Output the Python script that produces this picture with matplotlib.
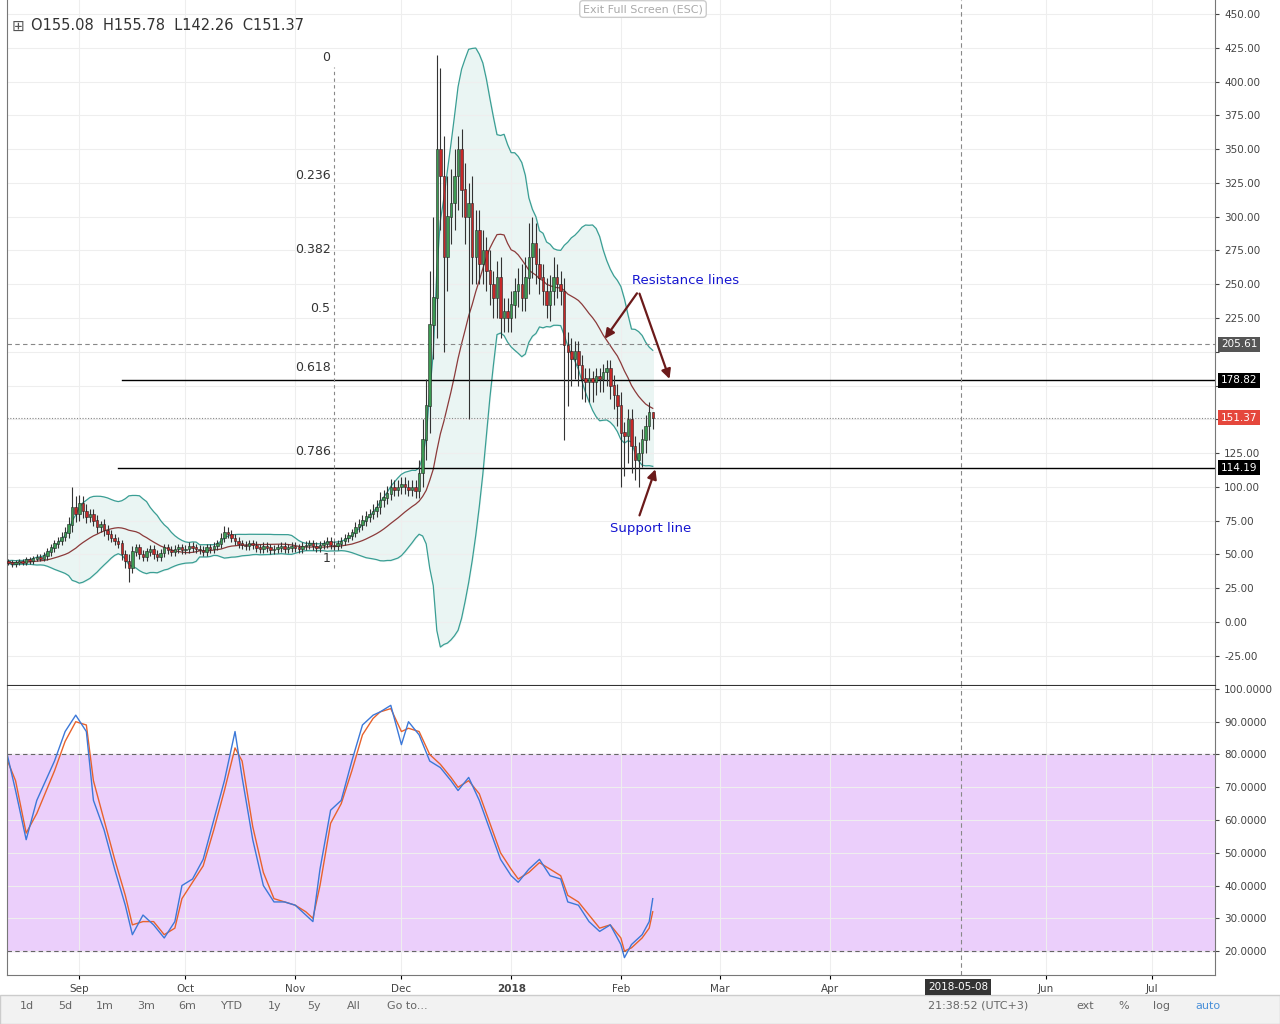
import numpy as np, pandas as pd
import matplotlib
matplotlib.use("Agg")
import matplotlib.pyplot as plt
import matplotlib.dates as mdates

start = "2017-08-11"
closes = [45,44,43,44,45,44,46,45,47,48,47,49,52,55,58,60,63,66,72,85,80,
 88,82,78,80,75,70,72,68,65,62,60,58,50,45,40,52,55,50,48,52,54,50,48,51,55,53,52,54,55,53,
 54,56,55,54,53,52,55,54,56,58,62,66,65,62,60,58,57,56,58,57,55,54,56,55,53,54,55,56,54,55,56,
 55,54,56,57,58,56,55,57,58,60,57,56,58,60,62,64,66,70,72,75,78,80,82,85,90,92,95,100,98,100,
 102,100,98,100,97,110,135,160,220,240,350,330,270,300,310,330,350,320,300,310,270,290,265,275,260,250,240,255,225,230,225,
 235,245,250,240,255,270,280,265,255,245,235,245,255,250,245,205,200,195,200,190,180,178,180,178,182,180,185,188,175,168,160,
 140,138,150,130,120,125,135,145,155.08,151.37]
wick_up = [2,2,2,2,2,2,2,2,2,2,2,3,3,3,3,3,4,4,6,15,8,
 6,5,5,4,4,4,3,4,4,3,3,3,3,3,5,4,3,3,3,3,3,3,3,3,3,3,3,3,3,3,
 3,3,3,3,3,3,3,3,3,3,4,5,4,3,3,3,3,3,3,3,3,3,3,3,3,3,3,3,3,3,3,
 3,3,3,3,3,3,3,3,3,3,3,3,3,3,3,3,3,4,4,4,4,4,5,5,6,6,6,6,5,5,
 5,5,5,5,5,10,15,20,40,60,70,60,30,30,25,20,10,15,20,15,20,15,15,15,10,15,10,12,15,10,10,
 10,10,12,15,15,25,20,15,12,10,10,12,15,10,10,10,10,10,8,8,8,8,8,6,6,6,6,6,6,8,8,
 10,8,8,8,8,8,8,8,8,0.7]
wick_dn = [2,2,2,2,2,2,2,2,2,2,2,2,3,3,3,3,3,3,4,5,6,
 5,5,5,4,4,4,3,4,4,3,3,3,4,5,10,4,3,3,3,3,3,3,3,3,3,3,3,3,3,3,
 3,3,3,3,3,3,3,3,3,3,3,3,3,3,3,3,3,3,3,3,3,3,3,3,3,3,3,3,3,3,3,
 3,3,3,3,3,3,3,3,3,3,3,3,3,3,3,3,3,3,3,4,4,4,4,4,5,5,5,5,5,5,
 5,5,5,5,5,5,10,15,20,25,30,40,70,25,20,20,25,20,20,150,20,20,15,15,15,15,15,15,15,10,10,
 10,10,12,10,10,12,15,15,12,10,10,12,10,10,10,70,40,20,15,15,15,15,15,15,10,10,10,10,10,10,15,
 40,30,20,20,15,20,10,10,10,8.8]

# stochastic values
stoch_dates = ["2017-08-11","2017-08-14","2017-08-17","2017-08-20","2017-08-25","2017-08-28","2017-08-31",
 "2017-09-03","2017-09-05","2017-09-08","2017-09-11","2017-09-14","2017-09-16","2017-09-19","2017-09-22",
 "2017-09-25","2017-09-28","2017-09-30","2017-10-03","2017-10-06","2017-10-09","2017-10-12","2017-10-15",
 "2017-10-17","2017-10-20","2017-10-23","2017-10-26","2017-10-29","2017-11-01","2017-11-04","2017-11-06",
 "2017-11-08","2017-11-11","2017-11-14","2017-11-17","2017-11-20","2017-11-23","2017-11-25","2017-11-28",
 "2017-12-01","2017-12-03","2017-12-06","2017-12-09","2017-12-12","2017-12-15","2017-12-17","2017-12-20",
 "2017-12-23","2017-12-26","2017-12-29","2018-01-01","2018-01-03","2018-01-06","2018-01-09","2018-01-12",
 "2018-01-15","2018-01-17","2018-01-20","2018-01-23","2018-01-26","2018-01-29","2018-02-01","2018-02-02",
 "2018-02-04","2018-02-07","2018-02-09","2018-02-10"]
stoch_k = [83,69,54,66,78,87,92, 87,66,57,45,34,25,31,28, 24,29,40,42,48,60,72,87,
 73,54,40,35,35,34,31,29, 45,63,66,78,89,92,93,95, 83,90,86,78,76,72,69,73,
 66,57,48,43,41,45,48,43, 42,35,34,29,26,28,22,18, 22,25,29,36]
stoch_d = [80,72,56,62,75,84,90, 89,72,60,48,37,28,29,29, 25,27,36,41,46,57,69,82,
 78,58,44,36,35,34,32,30, 40,59,65,75,86,91,93,94, 87,88,87,80,77,73,70,72,
 68,59,50,45,42,44,47,45, 43,37,35,31,27,28,24,20, 21,24,27,32]

dates = pd.date_range(start, periods=len(closes), freq="D")
c = np.array(closes, float)
o = np.concatenate([[c[0]], c[:-1]])
h = np.maximum(o, c) + np.array(wick_up, float)
l = np.minimum(o, c) - np.array(wick_dn, float)

s = pd.Series(c)
sma = s.rolling(20, min_periods=1).mean()
sd = s.rolling(20, min_periods=2).std(ddof=0).fillna(0)
upper, lower = sma + 2*sd, sma - 2*sd

W, H = 1280, 1024
fig = plt.figure(figsize=(12.8, 10.24), dpi=100)
fig.patch.set_facecolor("white")
def fx(x): return x/W
def fy(y): return 1-y/H
ax = fig.add_axes([fx(7), fy(685), fx(1215-7), (685-0)/H])
ax2 = fig.add_axes([fx(7), fy(975), fx(1215-7), (975-686)/H], sharex=ax)

x = mdates.date2num(dates)
ax.fill_between(x, lower, upper, color="#eaf5f3", zorder=1)
ax.plot(x, upper, color="#3a9e94", lw=0.9, zorder=2)
ax.plot(x, lower, color="#3a9e94", lw=0.9, zorder=2)
ax.plot(x, sma, color="#8b3a3a", lw=0.9, zorder=2)
up = c >= o
col = np.where(up, "#3c9a52", "#c62828")
ax.vlines(x, l, h, color="#333333", lw=0.8, zorder=3)
ax.bar(x, np.abs(c-o)+0.3, bottom=np.minimum(o, c), width=0.7, color=col,
       edgecolor="#222222", linewidth=0.4, zorder=4)

xmin = mdates.date2num(pd.Timestamp("2017-08-11 14:00"))
xmax = mdates.date2num(pd.Timestamp("2018-07-18 20:00"))
ax.set_xlim(xmin, xmax)
ax.set_ylim(-46.6, 460.4)
ax2.set_ylim(12.7, 100.9)

for a in (ax, ax2):
    a.yaxis.tick_right()
    a.tick_params(axis="y", labelsize=7.5, colors="#444", length=3)
    a.grid(True, color="#eeeeee", lw=0.8)
    for sp in a.spines.values(): sp.set_color("#777")
    a.spines["top"].set_visible(False)
ax.spines["bottom"].set_color("#333")
yt = np.arange(-25, 451, 25)
ax.set_yticks(yt)
ax.set_yticklabels(["" if v in (150, 175, 200) else f"{v:.2f}" for v in yt])
ax2.set_yticks(np.arange(20, 101, 10))
ax2.set_yticklabels([f"{v:.4f}" for v in np.arange(20, 101, 10)])
ax.tick_params(axis="x", labelbottom=False, length=0)

mt = [pd.Timestamp(t) for t in ["2017-09-01","2017-10-01","2017-11-01","2017-12-01","2018-01-01","2018-02-01","2018-03-01","2018-04-01","2018-06-01","2018-07-01"]]
ax2.set_xticks(mdates.date2num(mt))
ax2.set_xticklabels(["Sep","Oct","Nov","Dec","2018","Feb","Mar","Apr","Jun","Jul"], fontsize=7.5, color="#444")
ax2.get_xticklabels()[4].set_fontweight("bold")
ax2.tick_params(axis="x", length=3)

ax.axhline(205.61, color="#888", ls=(0,(4,3)), lw=0.8)
ax.axhline(151.37, color="#888", ls=(0,(1,1.5)), lw=0.8)
def xd(s_): return mdates.date2num(pd.Timestamp(s_))
x123 = xd("2017-09-13")
ax.plot([x123, xmax], [178.82]*2, color="black", lw=1)
ax.plot([x123-1, xmax], [114.19]*2, color="black", lw=1)
vd = xd("2018-05-08")
for a in (ax, ax2):
    a.axvline(vd, color="#888", ls=(0,(4,3)), lw=0.8)
xf = xd("2017-11-12")
ax.plot([xf, xf], [40, 411], color="#888", ls=(0,(3,3)), lw=0.8)
for lv, txt in [(0,"0"),(0.236,"0.236"),(0.382,"0.382"),(0.5,"0.5"),(0.618,"0.618"),(0.786,"0.786"),(1,"1")]:
    ax.text(xf-1, 411-lv*371+2, txt, ha="right", va="bottom", fontsize=9, color="#333")

def rlab(ax_, v, txt, fc, tc="white"):
    ax_.text(1.005, v, txt, transform=ax_.get_yaxis_transform(), fontsize=7.5, color=tc,
             va="center", ha="left", bbox=dict(boxstyle="square,pad=0.25", fc=fc, ec="none"), zorder=10, clip_on=False)
rlab(ax, 205.61, "205.61", "#555555")
rlab(ax, 178.82, "178.82", "#000000")
rlab(ax, 151.37, "151.37", "#e5473c")
rlab(ax, 114.19, "114.19", "#000000")

ax.text(xd("2018-02-04"), 253, "Resistance lines", color="#1515d0", fontsize=9.5, va="center")
ax.text(xd("2018-01-29"), 69, "Support line", color="#1515d0", fontsize=9.5, va="center")
ap = dict(arrowstyle="-|>", color="#6b1a1a", lw=1.6, mutation_scale=14)
ax.annotate("", xy=(xd("2018-01-27"), 208), xytext=(xd("2018-02-06"), 245), arrowprops=ap)
ax.annotate("", xy=(xd("2018-02-15"), 178), xytext=(xd("2018-02-06"), 245), arrowprops=ap)
ax.annotate("", xy=(xd("2018-02-11"), 115), xytext=(xd("2018-02-06"), 77), arrowprops=ap)

ax2.fill_between([xmin, xmax], 20, 80, color="#ebcffb", zorder=0)
ax2.axhline(80, color="#666", ls=(0,(4,3)), lw=0.8)
ax2.axhline(20, color="#666", ls=(0,(4,3)), lw=0.8)
sx = mdates.date2num(pd.to_datetime(stoch_dates))
ax2.plot(sx, stoch_d, color="#e8622c", lw=1.0)
ax2.plot(sx, stoch_k, color="#3c78d8", lw=1.0)

fig.text(fx(12), fy(26), "\u229e", fontsize=11, color="#555", va="center")
fig.text(fx(31), fy(26), "O155.08  H155.78  L142.26  C151.37", fontsize=10.5, color="#333", va="center")
fig.text(fx(643), fy(9), "Exit Full Screen (ESC)", fontsize=8, color="#aaa", ha="center", va="center",
         bbox=dict(boxstyle="round,pad=0.3", fc="white", ec="#ccc"))
fig.text(fx(958), fy(987), "2018-05-08", fontsize=7.5, color="white", ha="center", va="center",
         bbox=dict(boxstyle="square,pad=0.3", fc="#333", ec="none"))
fig.patches.append(plt.Rectangle((0, 0), 1, fy(995), transform=fig.transFigure, fc="#f2f2f2", ec="#ccc"))
for xx, t in [(27,"1d"),(65,"5d"),(105,"1m"),(146,"3m"),(187,"6m"),(232,"YTD"),(275,"1y"),(314,"5y"),(354,"All"),(407,"Go to...")]:
    fig.text(fx(xx), fy(1006), t, fontsize=8, color="#666", ha="center", va="center")
for xx, t in [(978,"21:38:52 (UTC+3)"),(1085,"ext"),(1124,"%"),(1162,"log"),(1208,"auto")]:
    fig.text(fx(xx), fy(1006), t, fontsize=8, color="#4a90d9" if t=="auto" else "#666", ha="center", va="center")
fig.savefig("out.png", dpi=100)
